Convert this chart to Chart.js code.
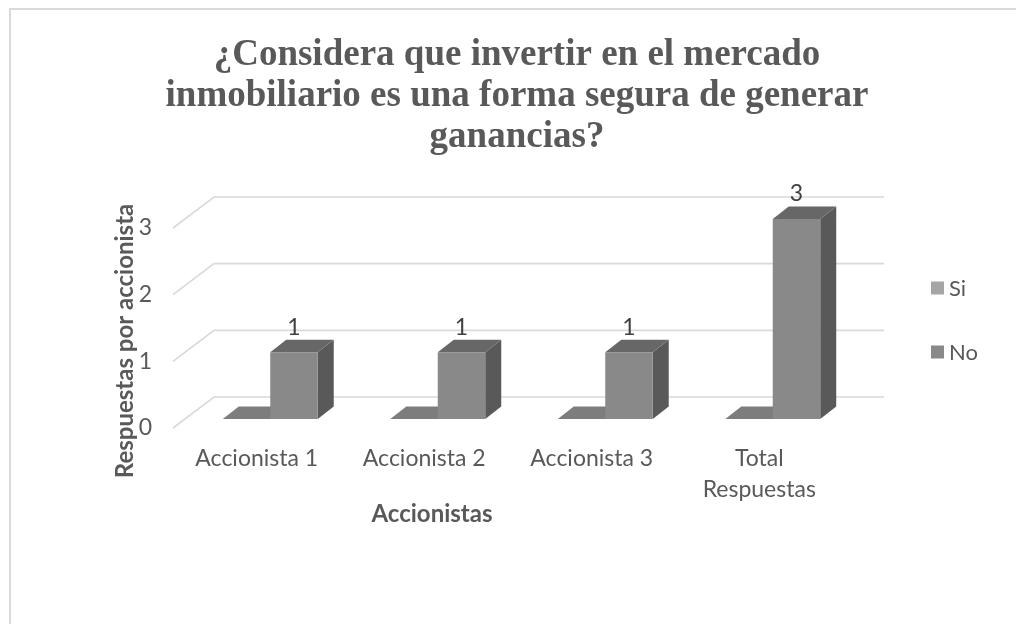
<!DOCTYPE html>
<html>
<head>
<meta charset="utf-8">
<script src="https://cdn.jsdelivr.net/npm/chart.js@4"></script>
<style>
  html, body { margin: 0; padding: 0; background: #fff; }
  #marco { position: relative; width: 1016px; height: 624px; }
</style>
</head>
<body>
<div id="marco"><canvas id="grafico" width="1016" height="624"></canvas></div>
<script>
// ========== DATOS ==========
const categorias = [['Accionista 1'], ['Accionista 2'], ['Accionista 3'], ['Total', 'Respuestas']];
const serieSi = [0, 0, 0, 0];
const serieNo = [1, 1, 1, 3];
const ticksY = [0, 1, 2, 3];
const series = ['Si', 'No'];

const titulo = ['¿Considera que invertir en el mercado', 'inmobiliario es una forma segura de generar', 'ganancias?'];
const tituloY = 'Respuestas por accionista';
const tituloX = 'Accionistas';

// colores: frente, arriba, lado
const coloresSi = ['#a5a5a5', '#7d7d7d', '#6b6b6b'];
const coloresNo = ['#898989', '#676767', '#595959'];

const GRIS = '#595959';
const FUENTE = 'Lato, Carlito, Calibri, sans-serif';

// ========== 3D ==========
const PARED = { dx: 41, dy: -31 };   // fondo del piso
const BARRA = { dx: 13.5, dy: -9 };  // frente de la barra respecto al frente del piso
const PROF = { dx: 16, dy: -12.5 };  // profundidad de la barra

function cara(ctx, pts, color) {
    ctx.beginPath();
    ctx.moveTo(pts[0][0], pts[0][1]);
    for (let i = 1; i < pts.length; i++) ctx.lineTo(pts[i][0], pts[i][1]);
    ctx.closePath();
    ctx.fillStyle = color;
    ctx.fill();
}

const plugin3d = {
    id: 'barras3d',
    beforeDatasetsDraw(chart) {
        const ctx = chart.ctx;
        const area = chart.chartArea;
        const y = chart.scales.y;

        // paredes y rejilla
        ctx.save();
        ctx.strokeStyle = '#d9d9d9';
        ctx.lineWidth = 1.6;
        ticksY.forEach(v => {
            const py = y.getPixelForValue(v);
            ctx.beginPath();
            ctx.moveTo(area.left, py);
            ctx.lineTo(area.left + PARED.dx, py + PARED.dy);
            ctx.lineTo(area.right + PARED.dx, py + PARED.dy);
            ctx.stroke();
        });
        ctx.restore();

        // barras
        const metas = chart.data.datasets.map((d, i) => chart.getDatasetMeta(i));
        for (let c = 0; c < categorias.length; c++) {
            metas.forEach((meta, i) => {
                const bar = meta.data[c];
                const col = i === 0 ? coloresSi : coloresNo;
                const x0 = bar.x - bar.width / 2 + BARRA.dx;
                const x1 = bar.x + bar.width / 2 + BARRA.dx;
                const yt = bar.y + BARRA.dy;
                const yb = bar.base + BARRA.dy;
                ctx.save();
                // lado
                cara(ctx, [[x1, yt], [x1 + PROF.dx, yt + PROF.dy], [x1 + PROF.dx, yb + PROF.dy], [x1, yb]], col[2]);
                // arriba
                cara(ctx, [[x0, yt], [x0 + PROF.dx, yt + PROF.dy], [x1 + PROF.dx, yt + PROF.dy], [x1, yt]], col[1]);
                // frente
                if (yb - yt > 0.5) cara(ctx, [[x0, yt], [x1, yt], [x1, yb], [x0, yb]], col[0]);
                ctx.restore();
            });
        }
        return false;
    },
    afterDraw(chart) {
        const ctx = chart.ctx;
        ctx.save();

        // borde
        ctx.strokeStyle = '#d9d9d9';
        ctx.lineWidth = 2;
        ctx.beginPath();
        ctx.moveTo(10, 624);
        ctx.lineTo(10, 9);
        ctx.lineTo(1016, 9);
        ctx.stroke();

        // titulo
        ctx.fillStyle = GRIS;
        ctx.textAlign = 'center';
        ctx.textBaseline = 'alphabetic';
        ctx.font = 'bold 37px "Liberation Serif", "Times New Roman", serif';
        titulo.forEach((t, i) => ctx.fillText(t, 517, 65 + i * 41));

        // etiquetas de datos (serie No)
        const metaNo = chart.getDatasetMeta(1);
        ctx.font = '23px ' + FUENTE;
        ctx.fillStyle = '#404040';
        ctx.textBaseline = 'middle';
        metaNo.data.forEach((bar, i) => {
            ctx.fillText(String(serieNo[i]), bar.x + BARRA.dx, bar.y + BARRA.dy - 25);
        });

        // titulos de ejes
        ctx.fillStyle = GRIS;
        ctx.font = 'bold 24px ' + FUENTE;
        ctx.fillText(tituloX, 432, 514);
        ctx.save();
        ctx.translate(125, 341);
        ctx.rotate(-Math.PI / 2);
        ctx.fillText(tituloY, 0, 0);
        ctx.restore();

        // leyenda
        ctx.font = '22px ' + FUENTE;
        ctx.textAlign = 'left';
        chart.data.datasets.forEach((d, i) => {
            const ly = 288 + i * 64;
            ctx.fillStyle = d.backgroundColor;
            ctx.fillRect(931, ly - 6.5, 13, 13);
            ctx.fillStyle = GRIS;
            ctx.fillText(d.label, 949, ly + 1);
        });
        ctx.restore();
    }
};

// ========== GRAFICO ==========
new Chart(document.getElementById('grafico'), {
    type: 'bar',
    data: {
        labels: categorias,
        datasets: [
            { label: series[0], data: serieSi, backgroundColor: coloresSi[0] },
            { label: series[1], data: serieNo, backgroundColor: coloresNo[0] }
        ]
    },
    options: {
        responsive: false,
        animation: false,
        events: [],
        layout: { padding: { left: 113, right: 173, top: 228, bottom: 116 } },
        datasets: { bar: { categoryPercentage: 0.567, barPercentage: 1 } },
        plugins: {
            legend: { display: false },
            title: { display: false },
            tooltip: { enabled: false }
        },
        scales: {
            x: {
                grid: { display: false, drawTicks: false },
                border: { display: false },
                afterFit: s => { s.height = 80; },
                ticks: {
                    padding: 15,
                    maxRotation: 0,
                    autoSkip: false,
                    color: GRIS,
                    font: { family: FUENTE, size: 23, lineHeight: 1.35 }
                }
            },
            y: {
                min: 0,
                max: 3,
                grid: { display: false, drawTicks: false },
                border: { display: false },
                afterFit: s => { s.width = 60; },
                afterBuildTicks: s => { s.ticks = ticksY.map(v => ({ value: v })); },
                ticks: {
                    padding: 21,
                    color: GRIS,
                    font: { family: FUENTE, size: 23 }
                }
            }
        }
    },
    plugins: [plugin3d]
});
</script>
</body>
</html>
